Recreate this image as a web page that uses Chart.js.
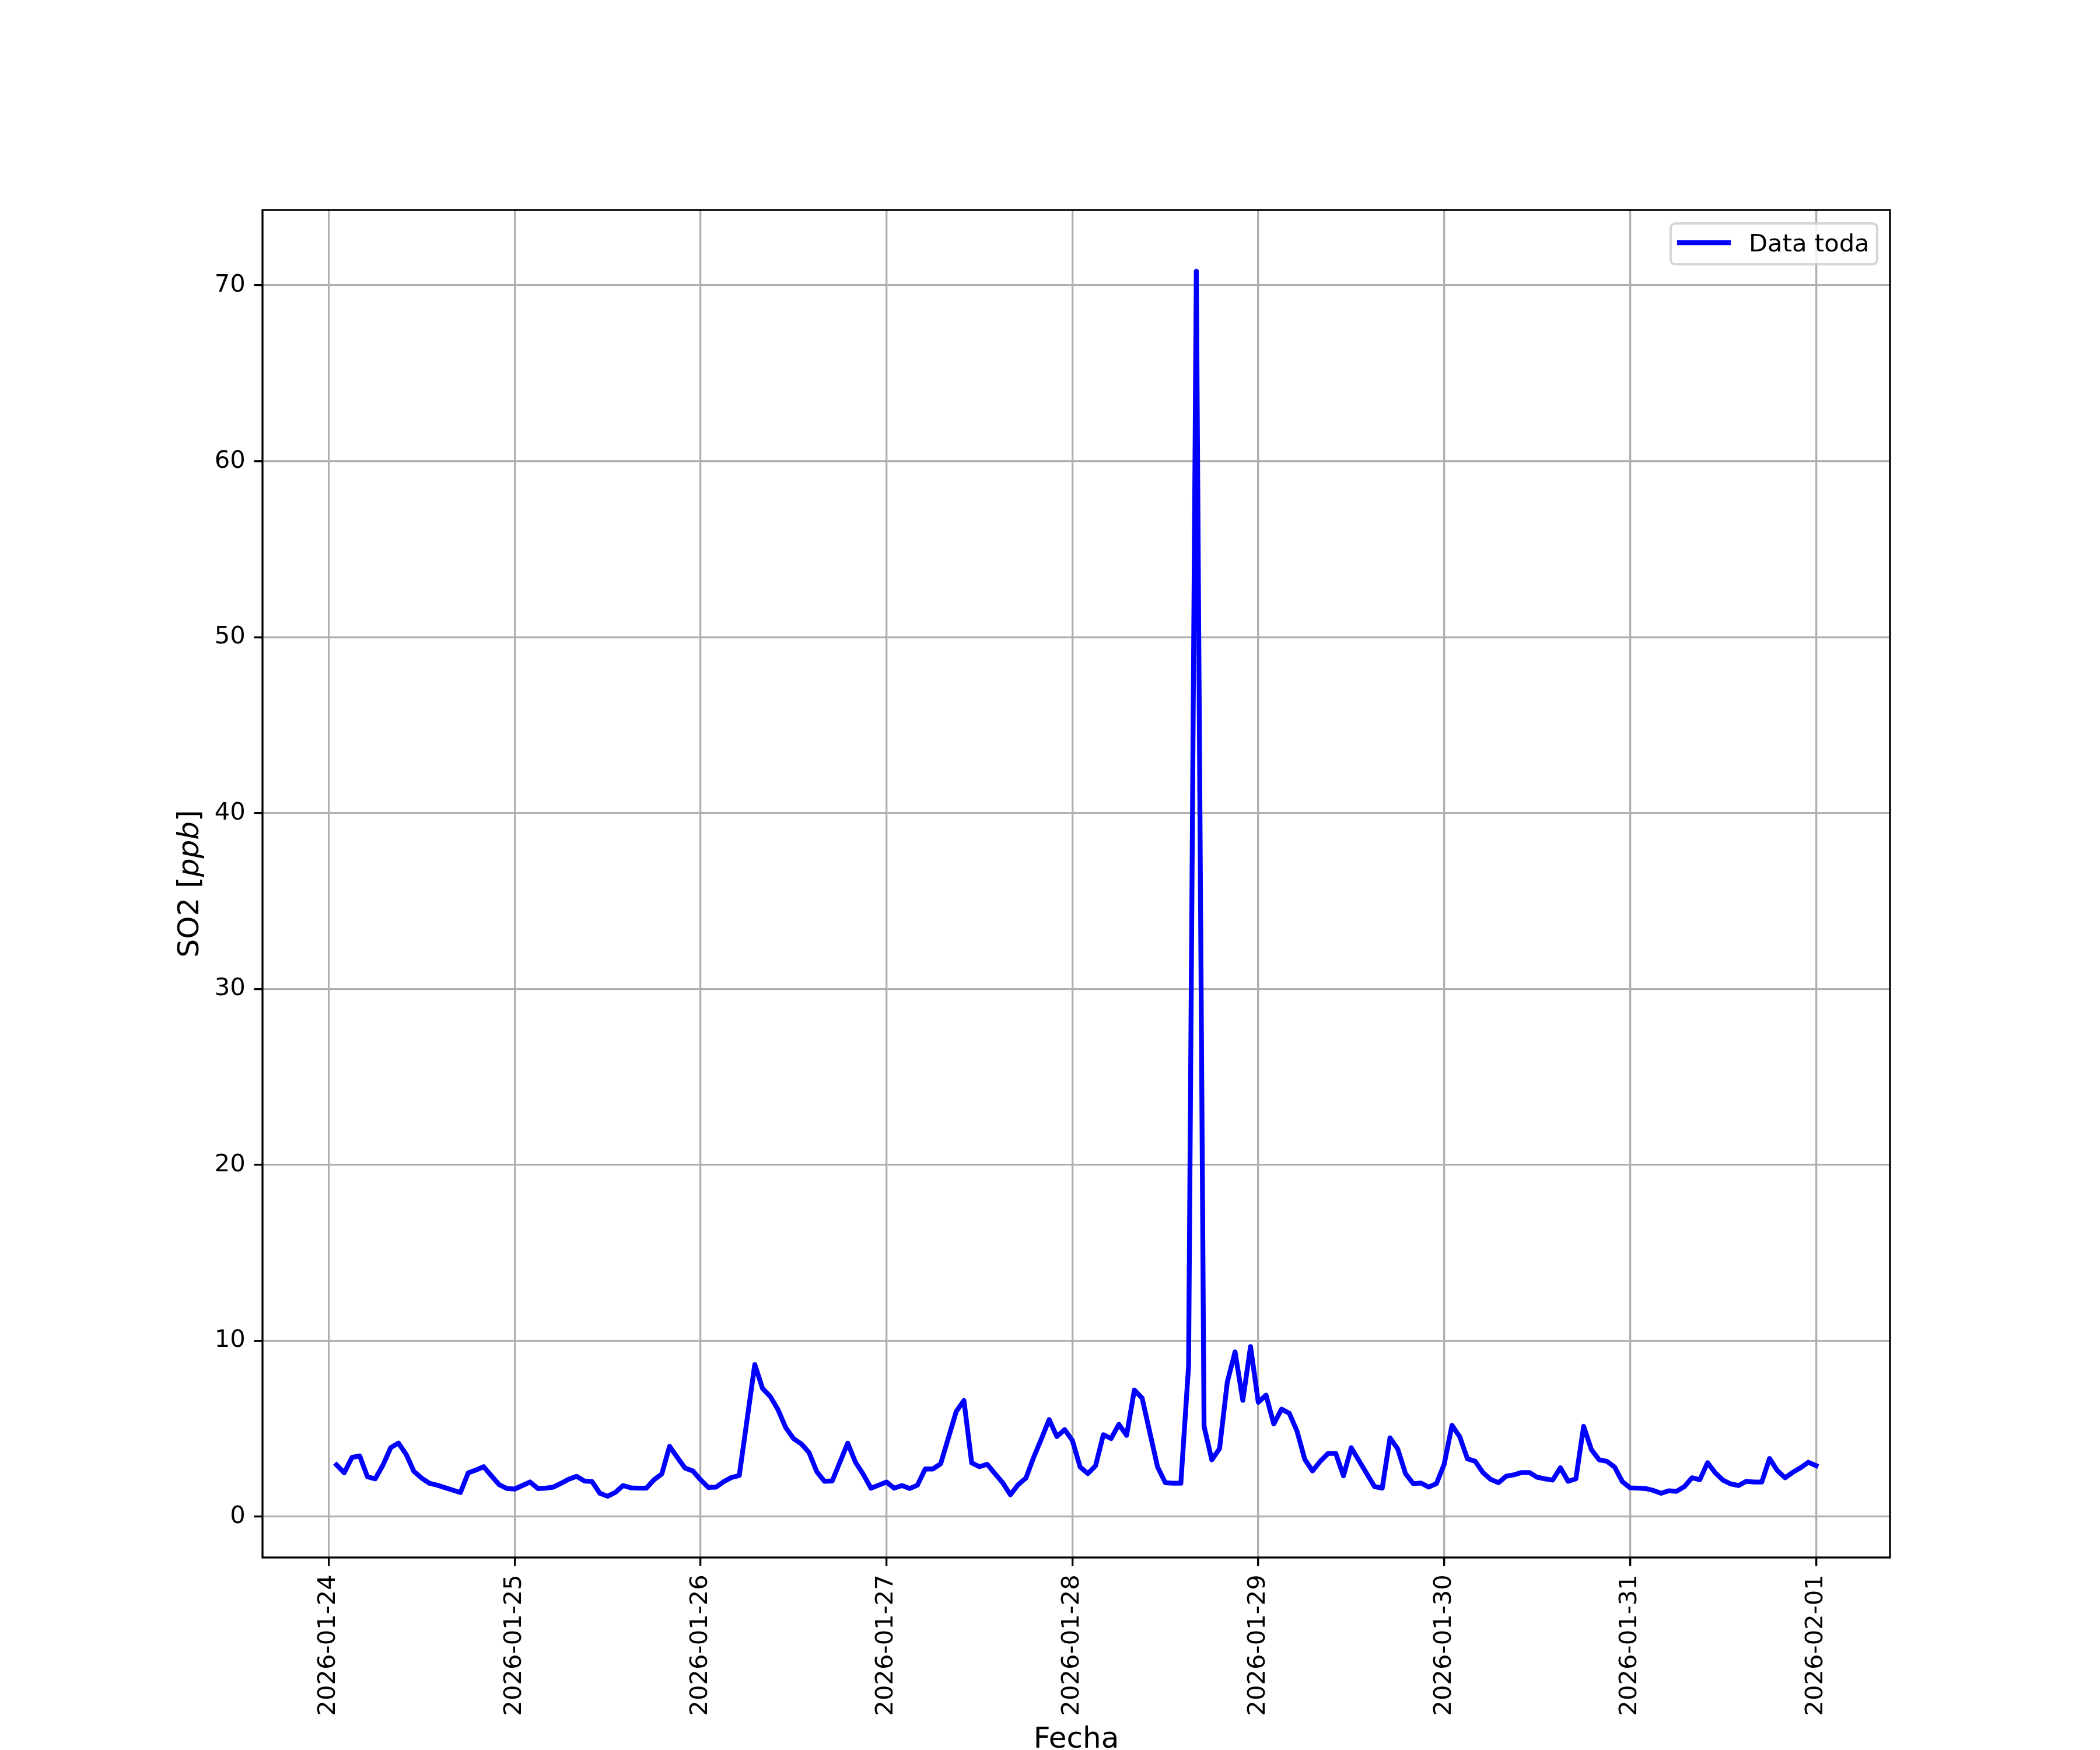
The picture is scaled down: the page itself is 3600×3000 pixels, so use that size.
<!DOCTYPE html>
<html>
<head>
<meta charset="utf-8">
<script src="https://cdn.jsdelivr.net/npm/chart.js@4/dist/chart.umd.min.js"></script>
<style>
  html, body { margin: 0; padding: 0; background: #fff; }
  canvas { display: block; background: #fff; }
</style>
</head>
<body>
<canvas id="so2Chart" width="3600" height="3000"></canvas>
<script>
// hourly SO2 readings, first one at 2026-01-24 01:00 (null = no reading)
const so2 = [
  2.95, 2.49, 3.37, 3.45, 2.27, 2.15, 2.93, 3.92, 4.18, 3.54, 2.57, 2.19, 1.90, 1.79, null, null, 1.37, 2.49, 2.65, 2.84, 2.32, 1.82, 1.60, 1.57,
  1.77, 1.97, 1.60, 1.62, 1.68, 1.90, 2.13, 2.29, 2.03, 1.99, 1.33, 1.16, 1.38, 1.77, 1.64, 1.62, 1.62, 2.10, 2.43, 4.00, 3.37, 2.76, 2.60, 2.10,
  1.66, 1.68, 1.99, 2.23, 2.34, null, 8.65, 7.29, 6.83, 6.08, 5.06, 4.44, 4.14, 3.65, 2.56, 2.01, 2.03, null, 4.18, 3.09, 2.41, 1.62, 1.79, 1.97,
  1.62, 1.77, 1.60, 1.79, 2.71, 2.71, 3.01, null, 5.97, 6.60, 3.06, 2.84, 2.98, 2.45, 1.93, 1.24, 1.82, 2.19, 3.37, 4.42, 5.52, 4.55, 4.95, 4.33,
  2.82, 2.45, 2.90, 4.66, 4.44, 5.25, 4.62, 7.20, 6.74, null, 2.82, 1.93, 1.90, 1.90, 8.56, 70.8, 5.14, 3.23, 3.87, 7.65, 9.37, 6.61, 9.67, 6.50,
  6.91, 5.27, 6.11, 5.88, 4.86, 3.26, 2.60, 3.15, 3.59, 3.59, 2.32, 3.92, null, null, 1.71, 1.62, 4.48, 3.85, 2.45, 1.88, 1.91, 1.68, 1.88, 2.98,
  5.19, 4.55, 3.29, 3.15, 2.51, 2.12, 1.93, 2.30, 2.38, 2.51, 2.51, 2.24, 2.15, 2.08, 2.78, 2.01, 2.15, 5.14, 3.81, 3.23, 3.15, 2.82, 1.99, 1.64,
  1.62, 1.60, 1.49, 1.33, 1.47, 1.44, 1.71, 2.21, 2.10, 3.07, 2.49, 2.07, 1.86, 1.77, 2.01, 1.97, 1.97, 3.31, 2.63, 2.21, 2.52, 2.78, 3.09, 2.90
];
const firstHour = 1; // hours counted from 2026-01-24 00:00

const dayLabels = ['2026-01-24', '2026-01-25', '2026-01-26', '2026-01-27', '2026-01-28',
                   '2026-01-29', '2026-01-30', '2026-01-31', '2026-02-01'];
const yTicks = [0, 10, 20, 30, 40, 50, 60, 70];

const seriesLabel = 'Data toda';
const xTitle = 'Fecha';

const points = so2.map((v, i) => ({ x: firstHour + i, y: v }));

// matplotlib-like 5% margins
const hrs = points.map(p => p.x);
const vals = so2.filter(v => v !== null);
const xPad = (Math.max(...hrs) - Math.min(...hrs)) * 0.05;
const yPad = (Math.max(...vals) - Math.min(...vals)) * 0.05;

const tickFont = { family: 'DejaVu Sans', size: 41.7 };

const decor = {
  id: 'decor',
  afterDraw(chart) {
    const { ctx, chartArea: a } = chart;
    ctx.save();

    // spines
    ctx.strokeStyle = '#000';
    ctx.lineWidth = 3.33;
    ctx.strokeRect(a.left, a.top, a.right - a.left, a.bottom - a.top);

    // legend, top right inside the axes
    const bx = 2864, by = 383, bw = 354, bh = 70, r = 8;
    ctx.beginPath();
    ctx.roundRect(bx, by, bw, bh, r);
    ctx.fillStyle = 'rgba(255,255,255,0.8)';
    ctx.fill();
    ctx.strokeStyle = 'rgba(204,204,204,0.8)';
    ctx.lineWidth = 4.17;
    ctx.stroke();

    const ds = chart.data.datasets[0];
    ctx.beginPath();
    ctx.moveTo(2875, 416);
    ctx.lineTo(2967, 416);
    ctx.strokeStyle = ds.borderColor;
    ctx.lineWidth = ds.borderWidth;
    ctx.lineCap = 'butt';
    ctx.stroke();

    ctx.fillStyle = '#000';
    ctx.font = '41.7px "DejaVu Sans"';
    ctx.textAlign = 'left';
    ctx.textBaseline = 'alphabetic';
    ctx.fillText(ds.label, 2998, 431);

    // x axis title
    ctx.font = '50px "DejaVu Sans"';
    ctx.textAlign = 'center';
    ctx.fillText(xTitle, (a.left + a.right) / 2, 2996);

    // y axis title: SO2 [ppb] with italic ppb
    const parts = [['SO2 [', '50px "DejaVu Sans"'], ['ppb', 'italic 50px "DejaVu Sans"'], [']', '50px "DejaVu Sans"']];
    let total = 0;
    const widths = parts.map(([t, f]) => { ctx.font = f; const w = ctx.measureText(t).width; total += w; return w; });
    ctx.translate(340, (a.top + a.bottom) / 2);
    ctx.rotate(-Math.PI / 2);
    ctx.textAlign = 'left';
    let px = -total / 2;
    parts.forEach(([t, f], i) => { ctx.font = f; ctx.fillText(t, px, 0); px += widths[i]; });

    ctx.restore();
  }
};

new Chart(document.getElementById('so2Chart').getContext('2d'), {
  type: 'line',
  data: {
    datasets: [{
      label: seriesLabel,
      data: points,
      borderColor: '#0000ff',
      borderWidth: 8.3,
      borderJoinStyle: 'round',
      borderCapStyle: 'square',
      pointRadius: 0,
      tension: 0,
      spanGaps: true,
      fill: false
    }]
  },
  options: {
    responsive: false,
    animation: false,
    devicePixelRatio: 1,
    layout: { padding: { top: 360, right: 360, left: 0, bottom: 0 } },
    plugins: { legend: { display: false }, tooltip: { enabled: false } },
    scales: {
      x: {
        type: 'linear',
        min: Math.min(...hrs) - xPad,
        max: Math.max(...hrs) + xPad,
        afterFit: s => { s.height = 330; },
        afterBuildTicks: s => { s.ticks = dayLabels.map((d, i) => ({ value: i * 24 })); },
        grid: { color: '#b0b0b0', lineWidth: 3.33, tickColor: '#000', tickLength: 14.6, tickWidth: 3.33 },
        border: { display: false },
        ticks: {
          autoSkip: false, minRotation: 90, maxRotation: 90, padding: 14.6,
          color: '#000', font: tickFont,
          callback: (v, i) => dayLabels[i]
        }
      },
      y: {
        min: Math.min(...vals) - yPad,
        max: Math.max(...vals) + yPad,
        afterFit: s => { s.width = 450; },
        afterBuildTicks: s => { s.ticks = yTicks.map(v => ({ value: v })); },
        grid: { color: '#b0b0b0', lineWidth: 3.33, tickColor: '#000', tickLength: 14.6, tickWidth: 3.33 },
        border: { display: false },
        ticks: { padding: 14.6, color: '#000', font: tickFont, callback: v => String(v) }
      }
    }
  },
  plugins: [decor]
});
</script>
</body>
</html>
